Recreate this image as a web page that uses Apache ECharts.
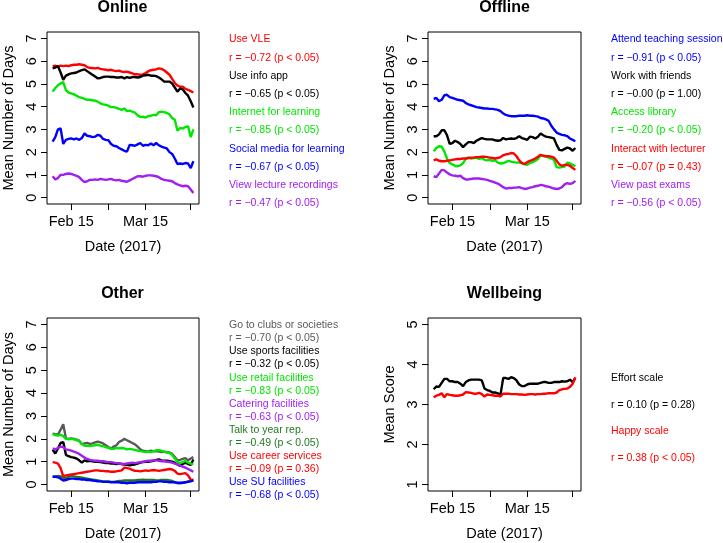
<!DOCTYPE html>
<html><head><meta charset="utf-8">
<script src="https://cdn.jsdelivr.net/npm/echarts@6/dist/echarts.min.js"></script>
<style>html,body{margin:0;padding:0;background:#fff}#c{width:723px;height:543px}</style>
</head><body><div id="c"></div>
<script>
// ---------- DATA ----------
const dates = [
 '2017-02-08','2017-02-09','2017-02-10','2017-02-11','2017-02-12','2017-02-13','2017-02-14','2017-02-15','2017-02-16','2017-02-17',
 '2017-02-18','2017-02-19','2017-02-20','2017-02-21','2017-02-22','2017-02-23','2017-02-24','2017-02-25','2017-02-26','2017-02-27',
 '2017-02-28','2017-03-01','2017-03-02','2017-03-03','2017-03-04','2017-03-05','2017-03-06','2017-03-07','2017-03-08','2017-03-09',
 '2017-03-10','2017-03-11','2017-03-12','2017-03-13','2017-03-14','2017-03-15','2017-03-16','2017-03-17','2017-03-18','2017-03-19',
 '2017-03-20','2017-03-21','2017-03-22','2017-03-23','2017-03-24','2017-03-25','2017-03-26','2017-03-27','2017-03-28','2017-03-29',
 '2017-03-30','2017-03-31','2017-04-01','2017-04-02'];
const xTickDates = ['2017-02-15','2017-03-01','2017-03-15','2017-04-01'];
const xLabelDates = ['2017-02-15','2017-03-15'];
const xLabelTexts = ['Feb 15','Mar 15'];
const yTicksDays = [0,1,2,3,4,5,6,7];
const yTicksScore = [1,2,3,4,5];

// Online
const onlineVLE = [5.78,5.80,5.76,5.80,5.78,5.80,5.78,5.82,5.84,5.84, 5.86,5.84,5.82,5.74,5.70,5.70,5.68,5.70,5.66,5.64, 5.62,5.60,5.62,5.58,5.56,5.58,5.54,5.52,5.54,5.50, 5.46,5.42,5.42,5.40,5.42,5.48,5.55,5.60,5.62,5.64, 5.68,5.66,5.60,5.50,5.40,5.22,5.04,4.92,4.88,4.88, 4.78,4.74,4.68,4.62];
const onlineInfo = [5.68,5.72,5.78,5.50,5.18,5.36,5.42,5.46,5.48,5.50, 5.56,5.60,5.64,5.56,5.48,5.40,5.32,5.24,5.26,5.30, 5.32,5.32,5.30,5.30,5.28,5.28,5.30,5.24,5.30,5.26, 5.30,5.30,5.28,5.30,5.36,5.38,5.40,5.36,5.36,5.34, 5.28,5.20,5.10,5.10,5.10,5.02,4.84,4.66,4.80,4.76, 4.60,4.48,4.24,3.96];
const onlineInternet = [4.66,4.82,4.94,5.02,5.08,4.72,4.62,4.58,4.54,4.48, 4.42,4.38,4.34,4.30,4.30,4.28,4.26,4.22,4.14,4.10, 4.08,4.04,3.98,3.98,3.94,3.90,3.86,3.92,3.80,3.82, 3.78,3.74,3.62,3.54,3.56,3.52,3.58,3.60,3.64,3.62, 3.76,3.78,3.76,3.72,3.66,3.50,3.42,2.94,3.06,3.04, 3.10,3.14,2.66,3.00];
const onlineSocial = [2.46,2.66,3.00,3.04,2.36,2.54,2.58,2.60,2.56,2.60, 2.54,2.62,2.82,2.72,2.70,2.66,2.68,2.76,2.72,2.58, 2.54,2.52,2.36,2.28,2.26,2.18,2.12,2.06,2.02,2.32, 2.30,2.28,2.34,2.40,2.28,2.32,2.30,2.38,2.30,2.40, 2.30,2.24,2.20,2.16,2.00,1.92,1.72,1.48,1.50,1.48, 1.52,1.50,1.30,1.60];
const onlineRecordings = [0.94,0.80,0.86,1.00,1.00,1.04,1.06,1.04,1.00,0.96, 0.90,0.78,0.68,0.72,0.78,0.78,0.80,0.78,0.82,0.80, 0.78,0.80,0.82,0.78,0.76,0.78,0.74,0.72,0.70,0.76, 0.82,0.88,0.94,0.94,0.92,0.96,0.98,0.98,0.96,0.94, 0.90,0.82,0.78,0.76,0.74,0.72,0.64,0.58,0.54,0.50, 0.52,0.50,0.36,0.20];
const onlineNames = ['Use VLE','Use info app','Internet for learning','Social media for learning','View lecture recordings'];
const onlineStats = ['r = \u22120.72 (p < 0.05)','r = \u22120.65 (p < 0.05)','r = \u22120.85 (p < 0.05)','r = \u22120.67 (p < 0.05)','r = \u22120.47 (p < 0.05)'];

// Offline
const offlineAttend = [4.34,4.38,4.24,4.30,4.50,4.52,4.42,4.38,4.34,4.30, 4.28,4.26,4.16,4.10,4.06,4.02,3.98,3.96,3.94,3.92, 3.92,3.90,3.90,3.88,3.86,3.80,3.70,3.64,3.60,3.58, 3.58,3.58,3.60,3.60,3.60,3.62,3.60,3.60,3.58,3.56, 3.50,3.48,3.44,3.38,3.16,3.00,2.86,2.80,2.76,2.74, 2.70,2.60,2.54,2.48];
const offlineFriends = [2.70,2.70,2.78,2.96,2.96,2.74,2.36,2.40,2.50,2.44, 2.36,2.22,2.34,2.44,2.44,2.40,2.50,2.56,2.62,2.58, 2.56,2.56,2.56,2.52,2.50,2.52,2.62,2.56,2.58,2.60, 2.58,2.62,2.70,2.62,2.58,2.54,2.68,2.66,2.60,2.68, 2.82,2.74,2.68,2.66,2.64,2.60,2.32,2.10,2.08,2.14, 2.20,2.16,2.06,2.18];
const offlineLibrary = [2.04,2.18,2.26,2.24,2.02,1.72,1.52,1.46,1.40,1.38, 1.42,1.52,1.70,1.76,1.72,1.74,1.76,1.70,1.74,1.66, 1.64,1.66,1.62,1.64,1.54,1.50,1.52,1.56,1.62,1.58, 1.56,1.54,1.54,1.52,1.46,1.44,1.52,1.56,1.62,1.70, 1.86,1.84,1.80,1.76,1.72,1.66,1.34,1.32,1.34,1.36, 1.54,1.50,1.44,1.38];
const offlineLecturer = [1.64,1.68,1.62,1.60,1.60,1.62,1.64,1.66,1.68,1.70, 1.70,1.72,1.72,1.74,1.76,1.76,1.78,1.78,1.80,1.80, 1.78,1.76,1.74,1.72,1.74,1.78,1.86,1.90,1.92,1.96, 1.94,1.82,1.64,1.52,1.48,1.56,1.62,1.66,1.72,1.80, 1.88,1.84,1.82,1.82,1.80,1.76,1.62,1.46,1.40,1.44, 1.44,1.40,1.30,1.22];
const offlineExams = [0.94,0.90,1.06,1.22,1.20,1.10,1.02,0.98,0.96,0.94, 0.96,0.86,0.80,0.80,0.82,0.84,0.84,0.84,0.82,0.80, 0.78,0.74,0.70,0.66,0.62,0.54,0.46,0.40,0.42,0.42, 0.44,0.44,0.46,0.42,0.38,0.40,0.44,0.46,0.50,0.52, 0.56,0.54,0.50,0.48,0.44,0.40,0.38,0.40,0.46,0.58, 0.64,0.60,0.64,0.74];
const offlineNames = ['Attend teaching session','Work with friends','Access library','Interact with lecturer','View past exams'];
const offlineStats = ['r = \u22120.91 (p < 0.05)','r = \u22120.00 (p = 1.00)','r = \u22120.20 (p < 0.05)','r = \u22120.07 (p = 0.43)','r = \u22120.56 (p < 0.05)'];

// Other
const otherClubs = [2.22,2.20,2.18,2.40,2.64,2.02,2.00,2.02,2.00,1.96, 1.92,1.76,1.80,1.82,1.78,1.80,1.84,1.88,1.84,1.80, 1.72,1.64,1.58,1.66,1.72,1.86,1.92,2.00,1.94,1.88, 1.82,1.76,1.66,1.54,1.48,1.46,1.44,1.48,1.46,1.46, 1.44,1.42,1.44,1.42,1.40,1.34,1.20,1.06,1.08,1.12, 1.16,1.06,1.14,1.20];
const otherSports = [1.52,1.36,1.58,1.82,1.86,1.30,1.24,1.20,1.18,1.14, 1.06,0.96,1.06,1.02,1.04,1.02,1.00,1.00,0.98,0.96, 0.94,0.94,0.92,0.92,0.90,0.92,0.90,0.88,0.86,0.84, 0.86,0.88,0.92,0.96,0.98,1.00,1.00,1.02,1.04,1.08, 1.10,1.06,1.04,1.04,1.02,1.00,0.96,0.88,0.82,0.90, 0.96,0.90,0.86,1.10];
const otherRetail = [2.22,2.16,2.14,2.18,2.12,2.00,1.98,2.00,1.98,1.94, 1.90,1.78,1.70,1.70,1.68,1.70,1.72,1.74,1.70,1.68, 1.64,1.60,1.56,1.56,1.60,1.58,1.60,1.58,1.54,1.56, 1.54,1.52,1.48,1.46,1.44,1.42,1.44,1.42,1.46,1.50, 1.50,1.48,1.44,1.40,1.38,1.30,1.14,1.00,0.94,0.98, 1.04,0.96,0.92,0.88];
const otherCatering = [1.58,1.54,1.60,1.66,1.64,1.54,1.52,1.48,1.44,1.40, 1.34,1.26,1.18,1.12,1.08,1.06,1.04,1.04,1.02,1.02, 1.00,0.98,0.98,0.96,0.94,0.92,0.90,0.90,0.92,0.94, 0.96,0.94,0.96,0.98,1.00,1.02,1.04,1.04,1.06,1.06, 1.04,1.02,1.02,1.00,0.98,0.96,0.92,0.88,0.84,0.78, 0.74,0.68,0.62,0.56];
const otherYearRep = [0.34,0.36,0.38,0.36,0.30,0.28,0.34,0.38,0.36,0.34, 0.32,0.30,0.28,0.26,0.24,0.22,0.20,0.18,0.16,0.14, 0.14,0.14,0.12,0.12,0.14,0.16,0.16,0.18,0.18,0.18, 0.18,0.18,0.20,0.20,0.22,0.20,0.20,0.20,0.20,0.18, 0.18,0.20,0.20,0.20,0.18,0.16,0.10,0.06,0.06,0.08, 0.10,0.14,0.18,0.20];
const otherCareer = [0.98,0.96,0.92,0.72,0.36,0.40,0.42,0.44,0.46,0.48, 0.50,0.52,0.54,0.56,0.58,0.60,0.62,0.62,0.60,0.60, 0.58,0.58,0.56,0.56,0.58,0.60,0.62,0.74,0.72,0.70, 0.64,0.60,0.60,0.58,0.60,0.62,0.60,0.62,0.64,0.62, 0.60,0.62,0.64,0.66,0.68,0.66,0.60,0.48,0.46,0.48, 0.50,0.40,0.22,0.20];
const otherSU = [0.34,0.34,0.32,0.26,0.18,0.20,0.24,0.26,0.26,0.24, 0.24,0.22,0.22,0.20,0.20,0.18,0.16,0.14,0.14,0.12, 0.12,0.12,0.10,0.10,0.10,0.10,0.08,0.08,0.06,0.08, 0.08,0.08,0.10,0.10,0.10,0.10,0.10,0.10,0.12,0.12, 0.14,0.14,0.12,0.12,0.10,0.10,0.10,0.08,0.08,0.08, 0.10,0.12,0.14,0.18];
const otherNames = ['Go to clubs or societies','Use sports facilities','Use retail facilities','Catering facilities','Talk to year rep.','Use career services','Use SU facilities'];
const otherStats = ['r = \u22120.70 (p < 0.05)','r = \u22120.32 (p < 0.05)','r = \u22120.83 (p < 0.05)','r = \u22120.63 (p < 0.05)','r = \u22120.49 (p < 0.05)','r = \u22120.09 (p = 0.36)','r = \u22120.68 (p < 0.05)'];

// Wellbeing
const effortScale = [3.38,3.45,3.44,3.54,3.64,3.64,3.58,3.58,3.56,3.56, 3.52,3.46,3.56,3.60,3.62,3.62,3.62,3.62,3.60,3.40, 3.36,3.34,3.30,3.30,3.28,3.24,3.66,3.66,3.64,3.68, 3.66,3.60,3.50,3.46,3.46,3.50,3.52,3.52,3.52,3.52, 3.54,3.56,3.56,3.54,3.54,3.56,3.56,3.56,3.58,3.57, 3.58,3.62,3.56,3.66];
const happyScale = [3.18,3.22,3.24,3.28,3.18,3.26,3.24,3.23,3.22,3.22, 3.23,3.25,3.31,3.30,3.29,3.27,3.27,3.29,3.26,3.20, 3.25,3.24,3.23,3.22,3.22,3.20,3.27,3.27,3.27,3.26, 3.26,3.26,3.25,3.25,3.24,3.25,3.26,3.26,3.25,3.26, 3.26,3.27,3.27,3.28,3.28,3.28,3.30,3.36,3.38,3.39, 3.40,3.44,3.52,3.68];
const wellNames = ['Effort scale','Happy scale'];
const wellStats = ['r = 0.10 (p = 0.28)','r = 0.38 (p < 0.05)'];

// ---------- STYLE / LAYOUT ----------
const C = {red:'#ff0000', black:'#000000', green:'#00e600', blue:'#0000ff', purple:'#a020f0', gray:'#5a5a5a', dkgreen:'#1f7a1f'};
const FONT = '"Liberation Sans", Arial, Helvetica, sans-serif';

const panels = [
  {title:'Online', grid:{left:46, top:32, width:153, height:172}, yName:'Mean Number of Days', yLim:[0,7], yTicks:yTicksDays,
   series:[onlineVLE,onlineInfo,onlineInternet,onlineSocial,onlineRecordings], colors:[C.red,C.black,C.green,C.blue,C.purple],
   names:onlineNames, stats:onlineStats, legX:229, legY:39.5, legStep:18.2, titleY:7.3},
  {title:'Offline', grid:{left:428, top:32, width:153, height:172}, yName:'Mean Number of Days', yLim:[0,7], yTicks:yTicksDays,
   series:[offlineAttend,offlineFriends,offlineLibrary,offlineLecturer,offlineExams], colors:[C.blue,C.black,C.green,C.red,C.purple],
   names:offlineNames, stats:offlineStats, legX:611, legY:39.5, legStep:18.2, titleY:7.3},
  {title:'Other', grid:{left:46, top:318, width:153, height:173}, yName:'Mean Number of Days', yLim:[0,7], yTicks:yTicksDays,
   series:[otherClubs,otherSports,otherRetail,otherCatering,otherYearRep,otherCareer,otherSU], colors:[C.gray,C.black,C.green,C.purple,C.dkgreen,C.red,C.blue],
   names:otherNames, stats:otherStats, legX:229, legY:325.3, legStep:13.08, titleY:293.5},
  {title:'Wellbeing', grid:{left:428, top:318, width:153, height:173}, yName:'Mean Score', yLim:[1,5], yTicks:yTicksScore,
   series:[effortScale,happyScale], colors:[C.black,C.red],
   names:wellNames, stats:wellStats, legX:611, legY:378.3, legStep:26.5, titleY:293.5}
];

const DAY = 864e5;
const t0 = Date.parse(dates[0]);
const dayNum = s => Math.round((Date.parse(s) - t0) / DAY);
const xs = dates.map(dayNum);
const xSpan = xs[xs.length-1] - xs[0];
const xMin = xs[0] - 0.04*xSpan, xMax = xs[xs.length-1] + 0.04*xSpan;
const tickDays = xTickDates.map(dayNum);
const labelDays = xLabelDates.map(dayNum);
const labelMap = {}; labelDays.forEach((d,i)=>labelMap[d]=xLabelTexts[i]);

const grids=[], xAxes=[], yAxes=[], series=[], graphics=[];
panels.forEach((p, i) => {
  grids.push(Object.assign({show:true, borderColor:'#000', borderWidth:1, backgroundColor:'transparent', containLabel:false}, p.grid));
  xAxes.push({type:'value', gridIndex:i, min:xMin, max:xMax,
    axisLine:{show:false, onZero:false}, splitLine:{show:false},
    axisTick:{show:true, customValues:tickDays, length:6, lineStyle:{color:'#000', width:1}},
    axisLabel:{customValues:labelDays, formatter:v=>labelMap[Math.round(v)]||'', color:'#000', fontSize:14.5, fontFamily:FONT, margin:10},
    name:'Date (2017)', nameLocation:'middle', nameGap:35, nameTextStyle:{color:'#000', fontSize:14.5, fontFamily:FONT}});
  const r = p.yLim[1]-p.yLim[0];
  yAxes.push({type:'value', gridIndex:i, min:p.yLim[0]-0.04*r, max:p.yLim[1]+0.04*r,
    axisLine:{show:false, onZero:false}, splitLine:{show:false},
    axisTick:{show:true, customValues:p.yTicks, length:6, lineStyle:{color:'#000', width:1}},
    axisLabel:{customValues:p.yTicks, rotate:90, color:'#000', fontSize:14.5, fontFamily:FONT, margin:8},
    name:p.yName, nameLocation:'middle', nameRotate:90, nameGap:31, nameTextStyle:{color:'#000', fontSize:14.5, fontFamily:FONT}});
  p.series.forEach((vals, k) => {
    series.push({type:'line', xAxisIndex:i, yAxisIndex:i, showSymbol:false, symbol:'none', smooth:false,
      data: vals.map((v,j)=>[xs[j], v]), lineStyle:{color:p.colors[k], width:2.4}, itemStyle:{color:p.colors[k]}, z:2+k});
  });
  const cx = p.grid.left + p.grid.width/2;
  graphics.push({type:'text', x:cx, y:p.titleY, style:{text:p.title, fill:'#000', font:'bold 16px '+FONT, align:'center', verticalAlign:'middle', textAlign:'center', textVerticalAlign:'middle'}});
  p.names.forEach((n, k) => {
    [n, p.stats[k]].forEach((t, m) => {
      graphics.push({type:'text', x:p.legX, y:p.legY + (2*k+m)*p.legStep,
        style:{text:t, fill:p.colors[k], font:'10.5px '+FONT, align:'left', verticalAlign:'middle', textAlign:'left', textVerticalAlign:'middle'}});
    });
  });
});

const chart = echarts.init(document.getElementById('c'), null, {renderer:'canvas'});
chart.setOption({animation:false, backgroundColor:'#fff', grid:grids, xAxis:xAxes, yAxis:yAxes, series:series, graphic:graphics});
</script></body></html>
